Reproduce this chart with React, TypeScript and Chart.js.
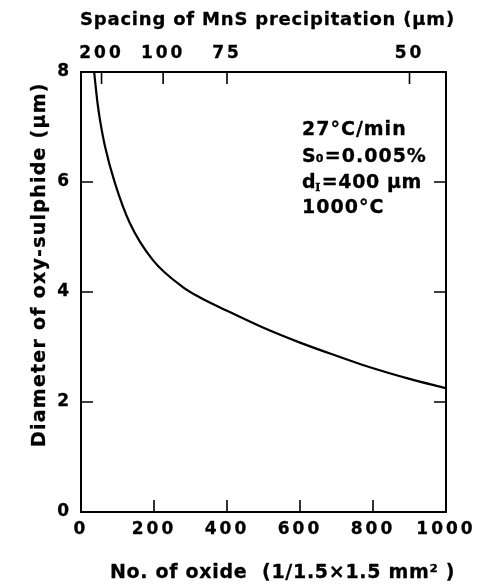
import React, { useEffect, useRef } from "react";
import { Chart, registerables } from "chart.js";

Chart.register(...registerables);

// Data
const OXIDE_COUNT = [36, 45, 52, 66, 93, 134, 197, 279, 326, 400, 500, 600, 700, 783, 900, 1000];
const DIAMETER = [8.0, 7.45, 7.13, 6.64, 5.98, 5.25, 4.58, 4.09, 3.9, 3.66, 3.35, 3.08, 2.84, 2.65, 2.42, 2.25];

const X_MIN = 0;
const X_MAX = 1000;
const X_STEP = 200;
const Y_MIN = 0;
const Y_MAX = 8;
const Y_STEP = 2;

// Top axis: spacing of MnS precipitation (µm) ; spacing = 1500 / sqrt(N)
const TOP_SPACING = [200, 100, 75, 50];
const TOP_TICK_N = TOP_SPACING.map((s) => (1500 / s) * (1500 / s));

const BOTTOM_INNER_TICKS = [200, 400, 600, 800];
const SIDE_INNER_TICKS = [2, 4, 6];

const TOP_TITLE = "Spacing of MnS precipitation (µm)";
const X_TITLE = "No. of oxide  (1/1.5×1.5 mm² )";
const Y_TITLE = "Diameter of oxy-sulphide (µm)";
const NOTE_RATE = "27°C/min";
const NOTE_S = ["S", "0", "=0.005%"];
const NOTE_D = ["d", "I", "=400 µm"];
const NOTE_T = "1000°C";

const TICK_FONT = { family: '"DejaVu Sans"', size: 17, weight: "bold" as const };
const TEXT_FAMILY = '"DejaVu Sans", sans-serif';
const STROKE = 0.3;

function drawText(ctx: CanvasRenderingContext2D, t: string, x: number, y: number) {
  ctx.strokeText(t, x, y);
  ctx.fillText(t, x, y);
}

const framePlugin = {
  id: "framePlugin",
  beforeDraw(chart: any) {
    chart.ctx.letterSpacing = "3px";
  },
  afterDraw(chart: any) {
    const ctx = chart.ctx as CanvasRenderingContext2D;
    const { left, right, top, bottom } = chart.chartArea;
    const xs = chart.scales.x;
    const x2 = chart.scales.x2;
    const ys = chart.scales.y;
    const L = 12;
    ctx.save();
    ctx.strokeStyle = "#000";
    ctx.lineWidth = 1.6;
    ctx.beginPath();
    BOTTOM_INNER_TICKS.forEach((v) => {
      const px = xs.getPixelForValue(v);
      ctx.moveTo(px, bottom);
      ctx.lineTo(px, bottom - L);
    });
    TOP_TICK_N.forEach((v) => {
      const px = x2.getPixelForValue(v);
      ctx.moveTo(px, top);
      ctx.lineTo(px, top + L);
    });
    SIDE_INNER_TICKS.forEach((v) => {
      const py = ys.getPixelForValue(v);
      ctx.moveTo(left, py);
      ctx.lineTo(left + L, py);
      ctx.moveTo(right, py);
      ctx.lineTo(right - L, py);
    });
    ctx.stroke();

    ctx.fillStyle = "#000";
    ctx.lineWidth = STROKE;
    ctx.lineJoin = "round";
    ctx.textBaseline = "alphabetic";
    ctx.textAlign = "left";

    // Top title
    ctx.font = `bold 18px ${TEXT_FAMILY}`;
    ctx.letterSpacing = "0.8px";
    drawText(ctx, TOP_TITLE, 80, 25);

    // Bottom title
    ctx.font = `bold 19px ${TEXT_FAMILY}`;
    ctx.letterSpacing = "0.7px";
    drawText(ctx, X_TITLE, 110, 578);

    // Y title
    ctx.save();
    ctx.translate(45, 447);
    ctx.rotate(-Math.PI / 2);
    ctx.font = `bold 19px ${TEXT_FAMILY}`;
    ctx.letterSpacing = "1.25px";
    drawText(ctx, Y_TITLE, 0, 0);
    ctx.restore();

    // Annotation
    const nx = 302;
    const big = `bold 19px ${TEXT_FAMILY}`;
    ctx.letterSpacing = "1px";
    ctx.font = big;
    drawText(ctx, NOTE_RATE, nx, 135);

    let x = nx;
    drawText(ctx, NOTE_S[0], x, 162);
    x += ctx.measureText(NOTE_S[0]).width - 1;
    ctx.font = `bold 11px ${TEXT_FAMILY}`;
    ctx.letterSpacing = "0.5px";
    drawText(ctx, NOTE_S[1], x, 162);
    x += ctx.measureText(NOTE_S[1]).width + 1;
    ctx.font = big;
    ctx.letterSpacing = "1px";
    drawText(ctx, NOTE_S[2], x, 162);

    x = nx;
    ctx.letterSpacing = "0.6px";
    drawText(ctx, NOTE_D[0], x, 188);
    x += ctx.measureText(NOTE_D[0]).width - 1;
    ctx.font = `bold 11px "DejaVu Serif", serif`;
    ctx.letterSpacing = "0.5px";
    drawText(ctx, NOTE_D[1], x, 191);
    x += ctx.measureText(NOTE_D[1]).width + 1;
    ctx.font = big;
    ctx.letterSpacing = "0.6px";
    drawText(ctx, NOTE_D[2], x, 188);

    ctx.letterSpacing = "1px";
    drawText(ctx, NOTE_T, nx, 213);
    ctx.restore();
  },
};

const tickBase = {
  color: "#000",
  font: TICK_FONT,
  textStrokeColor: "#000",
  textStrokeWidth: STROKE,
};

export default function App() {
  const canvasRef = useRef<HTMLCanvasElement | null>(null);

  useEffect(() => {
    if (!canvasRef.current) return;
    const data = OXIDE_COUNT.map((n, i) => ({ x: n, y: DIAMETER[i] }));
    const chart = new Chart(canvasRef.current, {
      type: "line",
      data: {
        datasets: [
          {
            data,
            borderColor: "#000",
            borderWidth: 2.2,
            pointRadius: 0,
            fill: false,
            cubicInterpolationMode: "monotone",
            xAxisID: "x",
            yAxisID: "y",
          },
        ],
      },
      options: {
        responsive: false,
        animation: false,
        events: [],
        layout: { padding: 0 },
        plugins: { legend: { display: false }, tooltip: { enabled: false }, title: { display: false } },
        scales: {
          x: {
            type: "linear",
            position: "bottom",
            min: X_MIN,
            max: X_MAX,
            grid: { display: false, drawTicks: false },
            border: { display: true, color: "#000", width: 2 },
            ticks: {
              ...tickBase,
              stepSize: X_STEP,
              padding: 7,
              maxRotation: 0,
              autoSkip: false,
              callback: (v: any) => String(v),
            },
            afterFit: (s: any) => {
              s.height = 75;
            },
          },
          x2: {
            type: "linear",
            position: "top",
            min: X_MIN,
            max: X_MAX,
            grid: { display: false, drawTicks: false },
            border: { display: true, color: "#000", width: 2 },
            afterBuildTicks: (s: any) => {
              s.ticks = TOP_TICK_N.map((v) => ({ value: v }));
            },
            ticks: {
              ...tickBase,
              padding: 8,
              maxRotation: 0,
              autoSkip: false,
              callback: (_v: any, i: number) => String(TOP_SPACING[i]),
            },
            afterFit: (s: any) => {
              s.height = 72;
            },
          },
          y: {
            type: "linear",
            position: "left",
            min: Y_MIN,
            max: Y_MAX,
            grid: { display: false, drawTicks: false },
            border: { display: true, color: "#000", width: 2 },
            ticks: { ...tickBase, stepSize: Y_STEP, padding: 9, callback: (v: any) => String(v) },
            afterFit: (s: any) => {
              s.width = 81;
            },
          },
          y2: {
            type: "linear",
            position: "right",
            min: Y_MIN,
            max: Y_MAX,
            grid: { display: false, drawTicks: false },
            border: { display: true, color: "#000", width: 2 },
            ticks: { display: false },
            afterFit: (s: any) => {
              s.width = 33;
            },
          },
        },
      },
      plugins: [framePlugin],
    });
    return () => chart.destroy();
  }, []);

  return (
    <div style={{ position: "absolute", left: 0, top: 0, width: 479, height: 587, background: "#fff" }}>
      <canvas ref={canvasRef} width={479} height={587} style={{ display: "block" }} />
    </div>
  );
}
